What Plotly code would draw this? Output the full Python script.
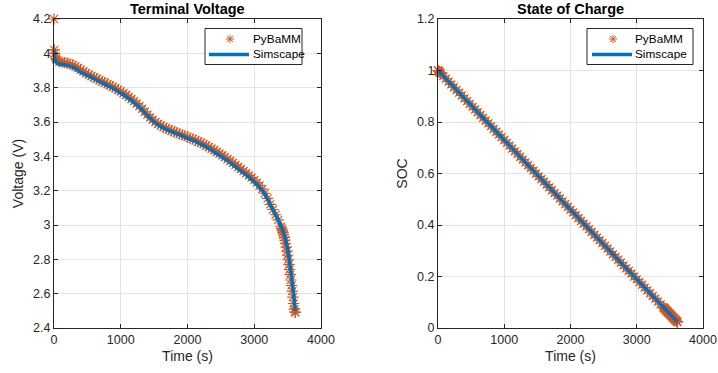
import plotly.graph_objects as go

# ---- data ----
pybamm_time = [0, 5, 10, 20, 30,
               40, 80, 120, 160, 200, 240, 280, 320, 360, 400,
               440, 480, 520, 560, 600, 640, 680, 720, 760, 800,
               840, 880, 920, 960, 1000, 1040, 1080, 1120, 1160, 1200,
               1240, 1280, 1320, 1360, 1400, 1440, 1480, 1520, 1560, 1600,
               1640, 1680, 1720, 1760, 1800, 1840, 1880, 1920, 1960, 2000,
               2040, 2080, 2120, 2160, 2200, 2240, 2280, 2320, 2360, 2400,
               2440, 2480, 2520, 2560, 2600, 2640, 2680, 2720, 2760, 2800,
               2840, 2880, 2920, 2960, 3000, 3040, 3080, 3120, 3160, 3200,
               3240, 3280, 3320, 3360, 3400,
               3410, 3420, 3430, 3440, 3450, 3460, 3470, 3480, 3490, 3500,
               3510, 3520, 3530, 3540, 3550, 3560, 3570, 3580, 3590, 3600,
               3610, 3615]
pybamm_voltage = [4.20, 4.02, 4.00, 3.98, 3.97,
                  3.962, 3.952, 3.948, 3.946, 3.943, 3.938, 3.932, 3.924, 3.915, 3.905,
                  3.895, 3.885, 3.876, 3.868, 3.860, 3.852, 3.844, 3.837, 3.829, 3.821,
                  3.813, 3.805, 3.797, 3.788, 3.778, 3.768, 3.757, 3.746, 3.734, 3.722,
                  3.708, 3.693, 3.677, 3.660, 3.643, 3.627, 3.612, 3.600, 3.589, 3.579,
                  3.571, 3.563, 3.556, 3.549, 3.543, 3.537, 3.531, 3.525, 3.519, 3.513,
                  3.506, 3.500, 3.493, 3.486, 3.479, 3.471, 3.463, 3.454, 3.445, 3.436,
                  3.426, 3.416, 3.406, 3.395, 3.384, 3.373, 3.362, 3.350, 3.338, 3.326,
                  3.314, 3.302, 3.289, 3.276, 3.262, 3.247, 3.230, 3.210, 3.185, 3.155,
                  3.120, 3.090, 3.060, 3.030, 2.990,
                  2.980, 2.969, 2.957, 2.943, 2.928, 2.911, 2.892, 2.871, 2.848, 2.824,
                  2.798, 2.770, 2.741, 2.711, 2.680, 2.648, 2.615, 2.580, 2.543, 2.510,
                  2.495, 2.490]
pybamm_soc = [1.000, 0.999, 0.997, 0.995, 0.992,
              0.989, 0.978, 0.968, 0.957, 0.946, 0.935, 0.924, 0.914, 0.903, 0.892,
              0.881, 0.870, 0.859, 0.849, 0.838, 0.827, 0.816, 0.805, 0.795, 0.784,
              0.773, 0.762, 0.751, 0.741, 0.730, 0.719, 0.708, 0.697, 0.686, 0.676,
              0.665, 0.654, 0.643, 0.632, 0.622, 0.611, 0.600, 0.589, 0.578, 0.568,
              0.557, 0.546, 0.535, 0.524, 0.514, 0.503, 0.492, 0.481, 0.470, 0.459,
              0.449, 0.438, 0.427, 0.416, 0.405, 0.395, 0.384, 0.373, 0.362, 0.351,
              0.341, 0.330, 0.319, 0.308, 0.297, 0.286, 0.276, 0.265, 0.254, 0.243,
              0.232, 0.222, 0.211, 0.200, 0.189, 0.178, 0.168, 0.157, 0.146, 0.135,
              0.124, 0.114, 0.103, 0.092, 0.081,
              0.078, 0.076, 0.073, 0.070, 0.067, 0.065, 0.062, 0.059, 0.057, 0.054,
              0.051, 0.049, 0.046, 0.043, 0.040, 0.038, 0.035, 0.032, 0.030, 0.027,
              0.024, 0.023]

sim_time = [0, 10, 30, 60, 120, 200, 300, 400, 500, 600, 700, 800, 900, 1000, 1100, 1200, 1300, 1400,
            1500, 1600, 1700, 1800, 1900, 2000, 2100, 2200, 2300, 2400, 2500, 2600, 2700, 2800, 2900,
            3000, 3100, 3150, 3200, 3250, 3300, 3350, 3400, 3450, 3500, 3550, 3580, 3600, 3615]
sim_voltage = [4.02, 3.97, 3.95, 3.94, 3.935, 3.93, 3.915, 3.89, 3.87, 3.852, 3.832, 3.812, 3.792,
               3.768, 3.743, 3.713, 3.678, 3.638, 3.60, 3.574, 3.553, 3.537, 3.522, 3.505, 3.49, 3.47,
               3.45, 3.425, 3.40, 3.375, 3.345, 3.315, 3.285, 3.25, 3.21, 3.185, 3.15, 3.11, 3.075,
               3.037, 2.997, 2.945, 2.86, 2.73, 2.635, 2.56, 2.50]
sim_soc_time = [0, 1000, 2000, 3000, 3615]
sim_soc = [1.0, 0.730, 0.459, 0.189, 0.023]

series_names = ["PyBaMM", "Simscape"]
titles = ["Terminal Voltage", "State of Charge"]
x_title = "Time (s)"
y_titles = ["Voltage (V)", "SOC"]

x_ticks = [0, 1000, 2000, 3000, 4000]
v_ticks = [2.4, 2.6, 2.8, 3.0, 3.2, 3.4, 3.6, 3.8, 4.0, 4.2]
v_labels = ["2.4", "2.6", "2.8", "3", "3.2", "3.4", "3.6", "3.8", "4", "4.2"]
s_ticks = [0, 0.2, 0.4, 0.6, 0.8, 1.0, 1.2]
s_labels = ["0", "0.2", "0.4", "0.6", "0.8", "1", "1.2"]

ORANGE = "#D95319"
BLUE = "#0072BD"
TXT = "#262626"
FONT = "Liberation Sans, Arial, sans-serif"

W, H = 718, 373


def X(px):
    return px / W


def Y(py):
    return (H - py) / H


star = dict(symbol="asterisk-open", size=9.5, color=ORANGE, line=dict(color=ORANGE, width=1.1))

fig = go.Figure()
fig.add_trace(go.Scatter(x=pybamm_time, y=pybamm_voltage, mode="markers", name=series_names[0],
                         marker=star, cliponaxis=False, xaxis="x", yaxis="y"))
fig.add_trace(go.Scatter(x=sim_time, y=sim_voltage, mode="lines", name=series_names[1],
                         line=dict(color=BLUE, width=3.5, shape="spline", smoothing=0.6),
                         xaxis="x", yaxis="y"))
fig.add_trace(go.Scatter(x=pybamm_time, y=pybamm_soc, mode="markers", name=series_names[0],
                         marker=star, cliponaxis=False, xaxis="x2", yaxis="y2"))
fig.add_trace(go.Scatter(x=sim_soc_time, y=sim_soc, mode="lines", name=series_names[1],
                         line=dict(color=BLUE, width=3.5), xaxis="x2", yaxis="y2"))

ydom = [Y(328), Y(19)]

axis_common = dict(showline=True, mirror="ticks", linecolor=TXT, linewidth=1,
                   ticks="inside", ticklen=4, tickcolor=TXT, automargin=False,
                   showgrid=True, gridcolor="#E3E3E3", gridwidth=1,
                   zeroline=False, tickfont=dict(size=12.5, color=TXT, family=FONT))

shapes = []
annotations = []


def add_legend(left, right, top, bottom, star_x, line_x0, line_x1, text_x):
    shapes.append(dict(type="rect", xref="paper", yref="paper", x0=X(left), x1=X(right),
                       y0=Y(bottom), y1=Y(top), line=dict(color=TXT, width=1),
                       fillcolor="white", layer="above"))
    y1 = top + 10.5
    y2 = top + 26
    r = 4.2
    d = r * 0.707
    cx, cy = star_x, y1
    path = (f"M{X(cx - r)},{Y(cy)} L{X(cx + r)},{Y(cy)} "
            f"M{X(cx)},{Y(cy - r)} L{X(cx)},{Y(cy + r)} "
            f"M{X(cx - d)},{Y(cy - d)} L{X(cx + d)},{Y(cy + d)} "
            f"M{X(cx - d)},{Y(cy + d)} L{X(cx + d)},{Y(cy - d)}")
    shapes.append(dict(type="path", xref="paper", yref="paper", path=path,
                       line=dict(color=ORANGE, width=1), layer="above"))
    shapes.append(dict(type="line", xref="paper", yref="paper", x0=X(line_x0), x1=X(line_x1),
                       y0=Y(y2), y1=Y(y2), line=dict(color=BLUE, width=3.5), layer="above"))
    for yy, name in ((y1, series_names[0]), (y2, series_names[1])):
        annotations.append(dict(text=name, x=X(text_x), y=Y(yy), xref="paper", yref="paper",
                                showarrow=False, xanchor="left", yanchor="middle",
                                font=dict(size=11.8, color="black", family=FONT)))


add_legend(205, 302, 28.5, 64.5, 230, 209, 249, 251)
add_legend(587, 693, 28.5, 64.5, 613, 592, 632, 633)

for cx, t in (((54 + 321) / 2, titles[0]), ((438 + 703) / 2, titles[1])):
    annotations.append(dict(text=f"<b>{t}</b>", x=X(cx), y=Y(9), xref="paper", yref="paper",
                            showarrow=False, font=dict(size=14.5, color="black", family=FONT),
                            xanchor="center", yanchor="middle"))

fig.update_layout(
    width=W, height=H,
    margin=dict(l=0, r=0, t=0, b=0),
    paper_bgcolor="white", plot_bgcolor="white",
    font=dict(family=FONT, color=TXT),
    showlegend=False,
    xaxis=dict(domain=[X(54), X(321)], range=[0, 4000], tickvals=x_ticks, anchor="y",
               title=dict(text=x_title, font=dict(size=14), standoff=5), **axis_common),
    yaxis=dict(domain=ydom, range=[2.4, 4.2], tickvals=v_ticks, ticktext=v_labels, anchor="x",
               title=dict(text=y_titles[0], font=dict(size=14), standoff=6), **axis_common),
    xaxis2=dict(domain=[X(438), X(703)], range=[0, 4000], tickvals=x_ticks, anchor="y2",
                title=dict(text=x_title, font=dict(size=14), standoff=5), **axis_common),
    yaxis2=dict(domain=ydom, range=[0, 1.2], tickvals=s_ticks, ticktext=s_labels, anchor="x2",
                title=dict(text=y_titles[1], font=dict(size=14), standoff=6), **axis_common),
    shapes=shapes,
    annotations=annotations,
)

fig.write_html("out.html", config={"displayModeBar": False, "staticPlot": True},
               post_script="document.body.style.margin='0px';")
